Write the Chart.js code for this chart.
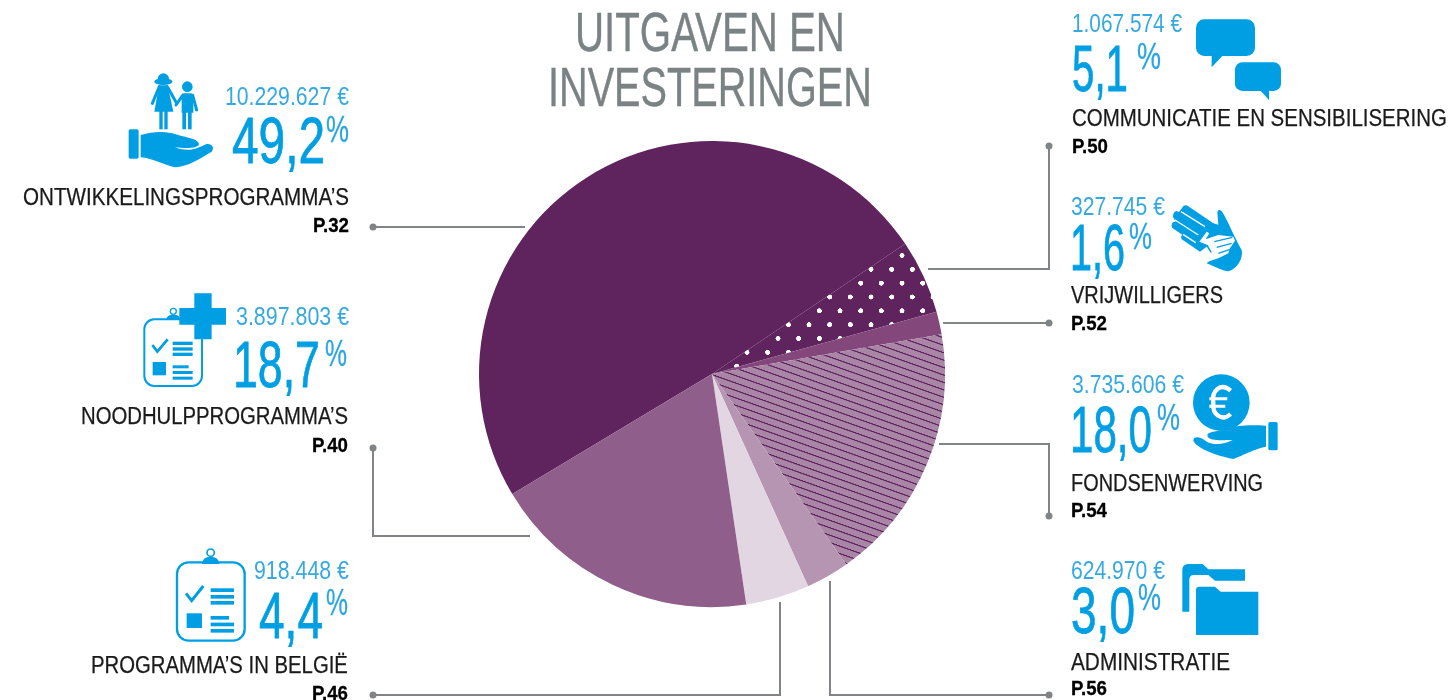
<!DOCTYPE html>
<html lang="nl">
<head>
<meta charset="utf-8">
<title>Uitgaven en investeringen</title>
<script src="https://cdn.jsdelivr.net/npm/chart.js@4"></script>
<style>
html, body { margin: 0; padding: 0; background: #fff; overflow: hidden; }
#wrap { position: relative; width: 1454px; height: 700px; overflow: hidden; }
#myChart { position: absolute; left: 0; top: 0; }
#icons { position: absolute; left: 0; top: 0; }
.txt { position: absolute; white-space: nowrap; line-height: 1; font-family: "Liberation Sans Narrow", "Liberation Sans", sans-serif; }
</style>
</head>
<body>
<div id="wrap">
<canvas id="myChart" width="1454" height="700"></canvas>
<svg id="icons" width="1454" height="700" viewBox="0 0 1454 700" fill="#009fe3">
  <!-- children on a hand -->
  <g transform="translate(0,60) scale(0.3333)">
    <rect x="386" y="208" width="30" height="88" rx="5"/>
    <path d="M422 225C470 210 510 215 545 228C575 235 595 240 597 252C597 262 570 268 525 262C570 278 590 265 620 252C635 250 645 262 635 275C600 295 565 320 525 322C490 315 460 295 422 292Z"/>
  </g>
  <g transform="translate(145,70) scale(0.3333)">
    <circle cx="55" cy="27" r="17"/>
    <ellipse cx="55" cy="35" rx="27" ry="10"/>
    <path d="M42 46H68L85 125H28Z"/>
    <rect x="43" y="120" width="10" height="58"/><rect x="58" y="120" width="10" height="58"/>
    <path d="M43 50L22 100M67 50L95 100" stroke="#009fe3" stroke-width="9" fill="none" stroke-linecap="round"/>
    <circle cx="127" cy="50" r="16"/>
    <path d="M116 70H138Q145 70 145 80V128H110V80Q110 70 116 70Z"/>
    <rect x="112" y="122" width="11" height="56"/><rect x="129" y="122" width="11" height="56"/>
    <path d="M113 76L93 105M143 76L155 120" stroke="#009fe3" stroke-width="9" fill="none" stroke-linecap="round"/>
  </g>
  <!-- clipboard with cross -->
  <g transform="translate(60,280) scale(0.3333)">
    <rect x="253" y="118" width="173" height="200" rx="30" fill="none" stroke="#009fe3" stroke-width="6"/>
    <path d="M318 120Q320 104 340 104Q360 104 362 120Z"/>
    <circle cx="340" cy="94" r="9" fill="#fff" stroke="#009fe3" stroke-width="4"/>
    <path d="M277 195L292 215L323 178" fill="none" stroke="#009fe3" stroke-width="8"/>
    <rect x="338" y="185" width="60" height="10"/><rect x="338" y="202" width="60" height="10"/><rect x="338" y="218" width="60" height="10"/>
    <rect x="278" y="246" width="40" height="40"/>
    <rect x="338" y="256" width="48" height="9"/><rect x="338" y="273" width="60" height="9"/><rect x="338" y="290" width="60" height="9"/>
    <path d="M403 40H455V84H498V134H455V178H403V134H358V84H403Z"/>
  </g>
  <!-- clipboard -->
  <g transform="translate(60,280) scale(0.3333)">
    <rect x="351" y="847" width="203" height="235" rx="35" fill="none" stroke="#009fe3" stroke-width="7"/>
    <path d="M426 852Q428 830 452 830Q476 830 478 852Z"/>
    <circle cx="452" cy="818" r="11" fill="#fff" stroke="#009fe3" stroke-width="5"/>
    <path d="M378 940L395 962L430 918" fill="none" stroke="#009fe3" stroke-width="9"/>
    <rect x="452" y="925" width="70" height="11"/><rect x="452" y="945" width="70" height="11"/><rect x="452" y="963" width="70" height="11"/>
    <rect x="380" y="1000" width="46" height="44"/>
    <rect x="452" y="1008" width="55" height="11"/><rect x="452" y="1028" width="70" height="11"/><rect x="452" y="1047" width="70" height="11"/>
  </g>
  <!-- speech bubbles -->
  <g transform="translate(1050,0) scale(0.3333)">
    <rect x="438" y="58" width="177" height="110" rx="25"/>
    <path d="M485 160V202L525 160Z"/>
    <rect x="555" y="187" width="138" height="86" rx="22"/>
    <path d="M625 265L657 300V265Z"/>
  </g>
  <!-- helping hands -->
  <g transform="translate(1165,200) scale(0.3333)">
    <path d="M56 17Q64 13 72 20L145 70L160 74L157 36Q160 26 170 33C190 65 205 105 230 150C235 172 220 205 190 214C175 214 150 200 125 190L145 170L125 140L105 155L50 118Q46 108 52 104L22 84Q16 72 26 65L32 66L24 50Q24 36 34 33L42 36Z"/>
    <path d="M48 35L120 80M30 60L100 105M54 103L92 128" stroke="#fff" stroke-width="4" fill="none"/>
    <path d="M103 125L125 95L133 100L122 118L160 105L205 110L210 122L195 145L190 160L160 175L128 185L140 155L128 135Z" fill="#fff"/>
    <path d="M148 125L202 112M155 142L200 130M160 160L195 148" stroke="#009fe3" stroke-width="4" fill="none"/>
  </g>
  <!-- coin on a hand -->
  <g transform="translate(1050,360) scale(0.3333)">
    <circle cx="514" cy="128" r="85"/>
    <path d="M542 92C512 66 484 92 490 128C486 164 516 186 542 162" fill="none" stroke="#fff" stroke-width="13"/>
    <path d="M478 116H532M478 139H526" stroke="#fff" stroke-width="9"/>
    <rect x="655" y="186" width="28" height="85" rx="5"/>
    <path d="M648 197C600 195 560 195 530 208C500 215 470 215 472 228C480 245 520 240 548 240C520 255 490 255 470 245C450 228 430 228 430 242C435 255 470 280 550 297C580 285 620 265 648 260Z"/>
  </g>
  <!-- folders -->
  <g transform="translate(1050,360) scale(0.3333)">
    <path d="M397 755V630Q397 612 415 612H458L475 628H585V662H495L475 645H432Q418 645 418 660V755Z"/>
    <path d="M438 690Q438 680 448 680H495L512 695H625V825H438Z"/>
  </g>
</svg>
</div>
<script>
// order is clockwise round the pie, starting at the big slice
const categories = ['ONTWIKKELINGSPROGRAMMA’S', 'COMMUNICATIE EN SENSIBILISERING', 'VRIJWILLIGERS', 'FONDSENWERVING', 'ADMINISTRATIE', 'PROGRAMMA’S IN BELGIË', 'NOODHULPPROGRAMMA’S'];
const amounts = [10229627, 1067574, 327745, 3735606, 624970, 918448, 3897803];
const amountLabels = ['10.229.627 €', '1.067.574 €', '327.745 €', '3.735.606 €', '624.970 €', '918.448 €', '3.897.803 €'];
const percentLabels = ['49,2', '5,1', '1,6', '18,0', '3,0', '4,4', '18,7'];
const pageLabels = ['P.32', 'P.50', 'P.52', 'P.54', 'P.56', 'P.46', 'P.40'];
const titleLines = ['UITGAVEN EN', 'INVESTERINGEN'];

const colors = ['#5f235d', null, '#83477c', null, '#b695b2', '#e2d6e3', '#8f5e8a'];

// where the texts go: [x0, x1, baseline] for amount, percent, % sign, label, page
const textPlaces = [
    [[225, 349, 105], [232, 325, 163], [326, 349, 142], [23, 349, 206], [313, 349, 232]],
    [[1072, 1182, 32], [1072, 1128, 91], [1137, 1161, 69], [1072, 1447, 127], [1072, 1108, 153]],
    [[1071, 1165, 215], [1070, 1125, 270], [1129, 1152, 249], [1071, 1223, 304], [1071, 1107, 330]],
    [[1072, 1184, 393], [1070, 1152, 452], [1157, 1180, 430], [1071, 1263, 492], [1071, 1107, 517]],
    [[1071, 1165, 579], [1071, 1135, 633], [1138, 1161, 610], [1071, 1230, 671], [1071, 1107, 695]],
    [[254, 349, 579], [259, 323, 638], [326, 348, 615], [91, 348, 674], [312, 348, 700]],
    [[236, 349, 325], [233, 320, 387], [325, 347, 366], [81, 348, 425], [312, 348, 452]]
];
const titlePlaces = [[575, 845, 52], [548, 872, 107]];

// leader lines, the dot sits on the last point
const leaders = [
    [[525, 227], [373, 227]],
    [[928, 269], [1049, 269], [1049, 146]],
    [[943, 323], [1049, 323]],
    [[939, 444], [1049, 444], [1049, 516]],
    [[830, 581], [830, 695], [1049, 695]],
    [[780, 602], [780, 695], [373, 695]],
    [[530, 536], [373, 536], [373, 448]]
];

function dotPattern(ctx) {
    const tile = document.createElement('canvas');
    tile.width = 62;
    tile.height = 83;
    const t = tile.getContext('2d');
    t.fillStyle = '#5f235d';
    t.fillRect(0, 0, 62, 83);
    t.fillStyle = '#fff';
    [[0, 0], [62, 0], [0, 83], [62, 83], [31, 41.5]].forEach(function (p) {
        t.beginPath();
        t.arc(p[0], p[1], 7.5, 0, Math.PI * 2);
        t.fill();
    });
    const pattern = ctx.createPattern(tile, 'repeat');
    pattern.setTransform(new DOMMatrix().translate(747, 352.3).scale(1 / 3));
    return pattern;
}

function hatchPattern(ctx) {
    const tile = document.createElement('canvas');
    tile.width = 30;
    tile.height = 21;
    const t = tile.getContext('2d');
    t.fillStyle = '#a985a6';
    t.fillRect(0, 0, 30, 21);
    t.fillStyle = '#5f235d';
    t.fillRect(0, 0, 30, 3.6);
    const pattern = ctx.createPattern(tile, 'repeat');
    pattern.setTransform(new DOMMatrix().translate(712, 374).rotate(19.5).scale(1 / 3));
    return pattern;
}

// grey lines out of the pie
const leaderPlugin = {
    id: 'leaders',
    afterDraw: function (chart) {
        const c = chart.ctx;
        c.save();
        c.strokeStyle = '#808487';
        c.fillStyle = '#808487';
        c.lineWidth = 2;
        leaders.forEach(function (line) {
            c.beginPath();
            line.forEach(function (p, i) {
                if (i === 0) c.moveTo(p[0], p[1]); else c.lineTo(p[0], p[1]);
            });
            c.stroke();
            const end = line[line.length - 1];
            c.beginPath();
            c.arc(end[0], end[1], 3.5, 0, Math.PI * 2);
            c.fill();
        });
        c.restore();
    }
};

const ctx = document.getElementById('myChart').getContext('2d');
const fills = colors.slice();
fills[1] = dotPattern(ctx);
fills[3] = hatchPattern(ctx);

new Chart(ctx, {
    type: 'pie',
    data: {
        labels: categories,
        datasets: [{
            data: amounts,
            backgroundColor: fills,
            borderWidth: 0,
            hoverOffset: 0
        }]
    },
    options: {
        responsive: false,
        animation: false,
        rotation: 239,
        layout: { padding: { left: 479, right: 509, top: 141, bottom: 93 } },
        plugins: { legend: { display: false }, tooltip: { enabled: false } },
        events: []
    },
    plugins: [leaderPlugin]
});

// text is squeezed a little so each run fills the width it has in the picture
function place(text, spot, size, color, weight, stroke) {
    const el = document.createElement('div');
    el.className = 'txt';
    el.textContent = text;
    el.style.fontSize = size + 'px';
    el.style.color = color;
    el.style.fontWeight = weight || 400;
    if (stroke) el.style.webkitTextStroke = stroke + 'px ' + color;
    el.style.left = spot[0] + 'px';
    el.style.top = (spot[2] - 0.8465 * size) + 'px';
    document.getElementById('wrap').appendChild(el);
    const w = el.getBoundingClientRect().width;
    el.style.transformOrigin = '0 0';
    el.style.transform = 'scaleX(' + ((spot[1] - spot[0]) / w).toFixed(3) + ')';
}

titleLines.forEach(function (line, i) {
    place(line, titlePlaces[i], 55, '#7a8284', 400, 0.4);
});
categories.forEach(function (name, i) {
    const p = textPlaces[i];
    place(amountLabels[i], p[0], 25, '#36a9e1');
    place(percentLabels[i], p[1], 64, '#009fe3', 400, 0.8);
    place('%', p[2], 36, '#2aa5e2', 400, 0.3);
    place(name, p[3], 23.5, '#1a1a1a', 400, 0.25);
    place(pageLabels[i], p[4], 21, '#000', 700, 0.3);
});
</script>
</body>
</html>
